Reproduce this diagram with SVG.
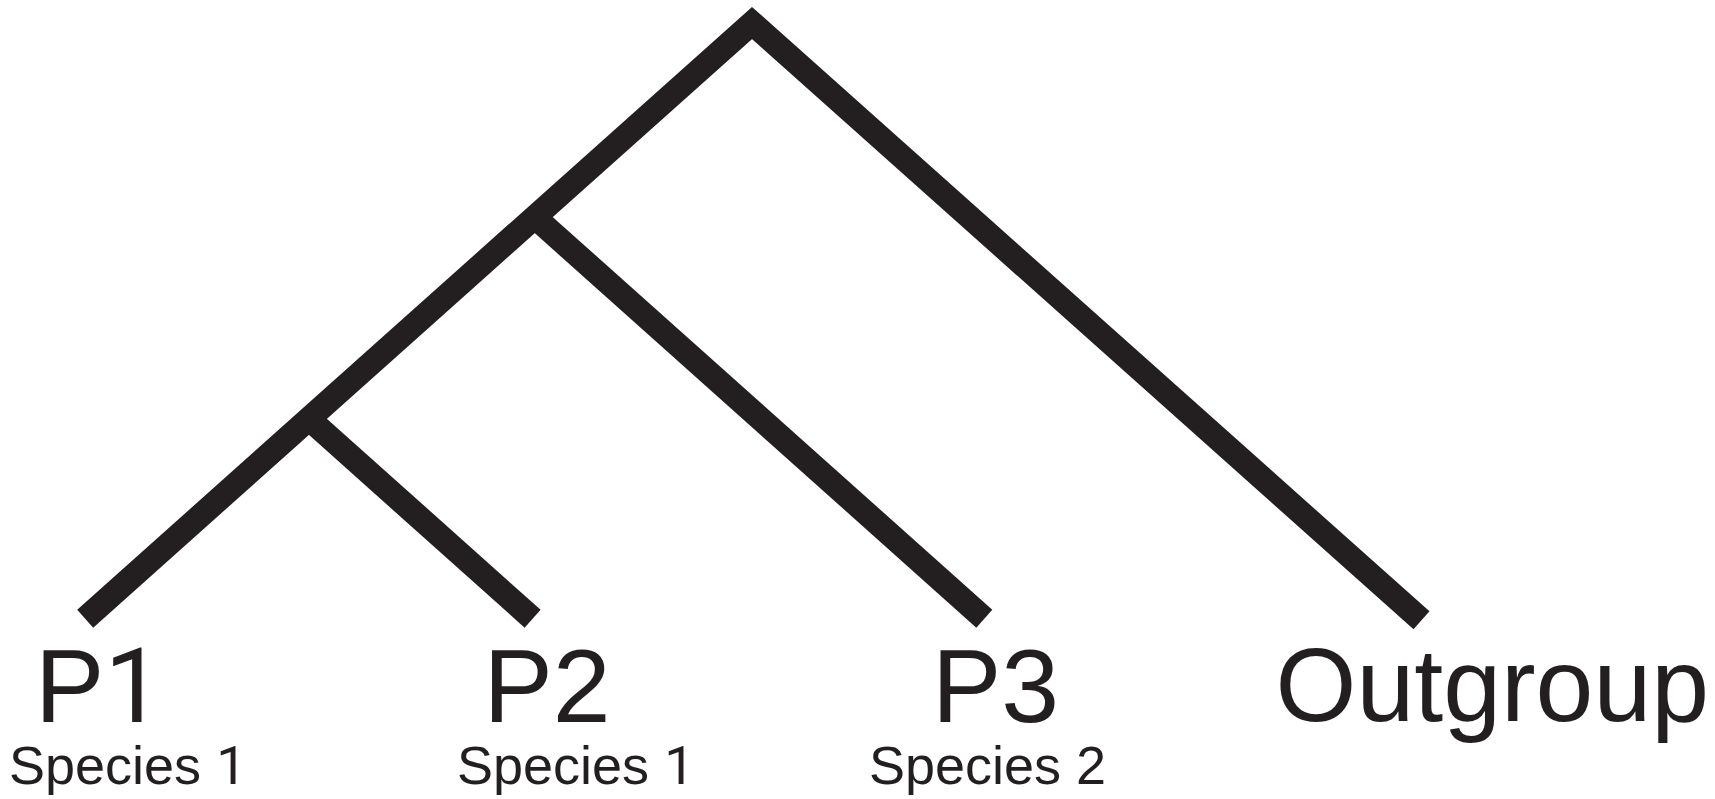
<svg xmlns="http://www.w3.org/2000/svg" width="1715" height="799" viewBox="0 0 1715 799">
  <style>
    .br { fill: none; stroke: #231f20; stroke-width: 24; stroke-linecap: butt; stroke-linejoin: miter; stroke-miterlimit: 10; }
    .one { font-family: Roboto, "Liberation Sans", sans-serif; }
  </style>
  <rect width="1715" height="799" fill="#ffffff"/>
  <g id="connectors">
    <polyline class="br" points="85.2,618.7 752,23 1421.5,620.3"/>
    <line class="br" x1="309" y1="418.9" x2="532.6" y2="618.7"/>
    <line class="br" x1="534.8" y1="217.1" x2="984.3" y2="618.7"/>
  </g>
  <g font-family="'Liberation Sans', sans-serif" fill="#231f20">
    <g id="P1">
      <text font-size="104" x="35" y="722">P<tspan class="one">1</tspan></text>
      <text font-size="54" x="9" y="784">Species <tspan class="one">1</tspan></text>
    </g>
    <g id="P2">
      <text font-size="104" x="483.5" y="722">P2</text>
      <text font-size="54" x="457" y="784">Species <tspan class="one">1</tspan></text>
    </g>
    <g id="P3">
      <text font-size="104" x="932" y="722">P3</text>
      <text font-size="54" x="869" y="784">Species 2</text>
    </g>
    <g id="Outgroup">
      <text font-size="104" x="1275.5" y="721">Outgroup</text>
    </g>
  </g>
</svg>
